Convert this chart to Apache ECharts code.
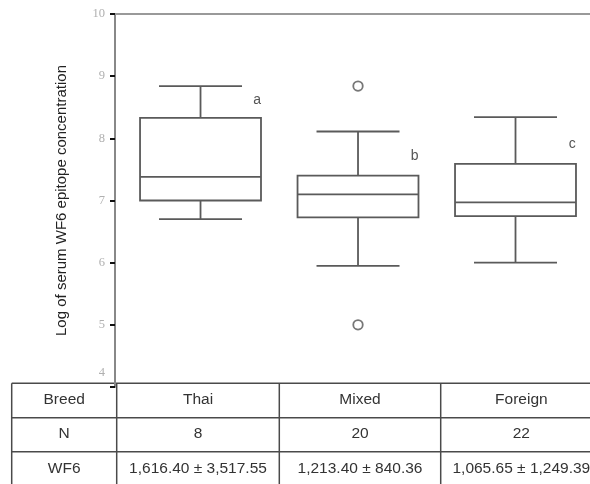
<!DOCTYPE html>
<html>
<head>
<meta charset="utf-8">
<script src="https://cdn.jsdelivr.net/npm/echarts@6/dist/echarts.min.js"></script>
<style>
html,body{margin:0;padding:0;background:#fff;}
#chart{width:590px;height:484px;}
</style>
</head>
<body>
<div id="chart"></div>
<script>
// ---- data ----
const categories = ['Thai', 'Mixed', 'Foreign'];
const whiskerLow = [6.70, 5.95, 6.00];
const q1 = [7.00, 6.73, 6.75];
const median = [7.38, 7.10, 6.97];
const q3 = [8.33, 7.40, 7.59];
const whiskerHigh = [8.84, 8.11, 8.34];
const outlierBreed = ['Mixed', 'Mixed'];
const outlierValue = [8.84, 5.00];
const groupLetters = ['a', 'b', 'c'];
const letterValue = [8.62, 7.71, 7.90];
const tableRowLabels = ['Breed', 'N', 'WF6'];
const nValues = ['8', '20', '22'];
const wf6Values = ['1,616.40 ± 3,517.55', '1,213.40 ± 840.36', '1,065.65 ± 1,249.39'];
const yMin = 4, yMax = 10, yInterval = 1;
const yTitle = 'Log of serum WF6 epitope concentration';

// ---- chart ----
const chart = echarts.init(document.getElementById('chart'), null, {renderer: 'canvas'});
const STROKE = '#5a5a5a';
const SANS = '"Liberation Sans", Arial, sans-serif';
const SERIF = '"Liberation Serif", "Times New Roman", serif';

const boxData = categories.map((c, i) => [i + 1, whiskerLow[i], q1[i], median[i], q3[i], whiskerHigh[i]]);
const outlierData = outlierBreed.map((b, i) => [categories.indexOf(b) + 1, outlierValue[i]]);

function renderBox(params, api) {
  const idx = params.dataIndex;
  const x = api.value(0);
  const lo = api.coord([x, api.value(1)]);
  const b1 = api.coord([x, api.value(2)]);
  const md = api.coord([x, api.value(3)]);
  const b3 = api.coord([x, api.value(4)]);
  const hi = api.coord([x, api.value(5)]);
  const boxW = api.size([0.768, 0])[0];
  const capW = api.size([0.527, 0])[0];
  const cx = lo[0];
  const ls = {stroke: STROKE, lineWidth: 1.8, fill: null};
  const lt = api.coord([x + 0.36, letterValue[idx]]);
  return {
    type: 'group',
    children: [
      {type: 'line', shape: {x1: cx, y1: lo[1], x2: cx, y2: b1[1]}, style: ls},
      {type: 'line', shape: {x1: cx, y1: b3[1], x2: cx, y2: hi[1]}, style: ls},
      {type: 'line', shape: {x1: cx - capW / 2, y1: lo[1], x2: cx + capW / 2, y2: lo[1]}, style: ls},
      {type: 'line', shape: {x1: cx - capW / 2, y1: hi[1], x2: cx + capW / 2, y2: hi[1]}, style: ls},
      {type: 'rect', shape: {x: cx - boxW / 2, y: b3[1], width: boxW, height: b1[1] - b3[1]},
        style: {stroke: STROKE, lineWidth: 1.8, fill: '#fff'}},
      {type: 'line', shape: {x1: cx - boxW / 2, y1: md[1], x2: cx + boxW / 2, y2: md[1]}, style: ls},
      {type: 'text', style: {text: groupLetters[idx], x: lt[0], y: lt[1], fill: '#555',
        font: '14px ' + SANS, textAlign: 'center', textVerticalAlign: 'middle'}}
    ]
  };
}

// table graphics
const colX = [11.7, 116.7, 279.3, 440.7, 602];
const rowY = [383.3, 417.7, 451.7, 486];
const tableChildren = [
  {type: 'rect', shape: {x: 0, y: rowY[0], width: 590, height: 484 - rowY[0]}, style: {fill: '#fff'}}
];
rowY.forEach(y => tableChildren.push({type: 'line', shape: {x1: colX[0], y1: y, x2: colX[4], y2: y},
  style: {stroke: '#4a4a4a', lineWidth: 1.5}}));
colX.forEach(x => tableChildren.push({type: 'line', shape: {x1: x, y1: rowY[0], x2: x, y2: rowY[3]},
  style: {stroke: '#4a4a4a', lineWidth: 1.5}}));
const tableRows = [
  [tableRowLabels[0]].concat(categories),
  [tableRowLabels[1]].concat(nValues),
  [tableRowLabels[2]].concat(wf6Values)
];
tableRows.forEach((row, r) => {
  row.forEach((txt, c) => {
    tableChildren.push({type: 'text', style: {
      text: txt, x: (colX[c] + colX[c + 1]) / 2, y: (rowY[r] + rowY[r + 1]) / 2 - 0.5,
      fill: '#333', font: '15.5px ' + SANS, textAlign: 'center', textVerticalAlign: 'middle'}});
  });
});

chart.setOption({
  animation: false,
  backgroundColor: '#fff',
  grid: {left: 115, right: 0, top: 14, bottom: 97, containLabel: false},
  xAxis: {
    type: 'value', position: 'top', min: 0.457, max: 3.473,
    axisLine: {show: true, onZero: false, lineStyle: {color: '#999', width: 2}},
    axisTick: {show: false}, axisLabel: {show: false}, splitLine: {show: false}
  },
  yAxis: {
    type: 'value', min: yMin, max: yMax, interval: yInterval,
    name: yTitle, nameLocation: 'middle', nameGap: 46,
    nameTextStyle: {fontFamily: SANS, fontSize: 15, color: '#222'},
    axisLine: {show: true, lineStyle: {color: '#888', width: 2}},
    axisTick: {show: true, length: 5, lineStyle: {color: '#111', width: 2}},
    axisLabel: {
      margin: 10, color: '#b0b0b0', fontFamily: SERIF, fontSize: 12.5,
      formatter: v => v === yMin ? '{lo|' + v + '}' : String(v),
      rich: {lo: {padding: [0, 0, 28, 0], color: '#b0b0b0', fontFamily: SERIF, fontSize: 12.5}}
    },
    splitLine: {show: false}
  },
  series: [
    {type: 'custom', renderItem: renderBox, data: boxData, encode: {x: 0, y: [1, 2, 3, 4, 5]}, z: 2},
    {type: 'scatter', data: outlierData, symbol: 'circle', symbolSize: 9.5, z: 3,
      itemStyle: {color: '#fff', borderColor: '#555', borderWidth: 1.8}}
  ],
  graphic: [{type: 'group', zlevel: 1, z: 100, children: tableChildren}]
});
</script>
</body>
</html>
